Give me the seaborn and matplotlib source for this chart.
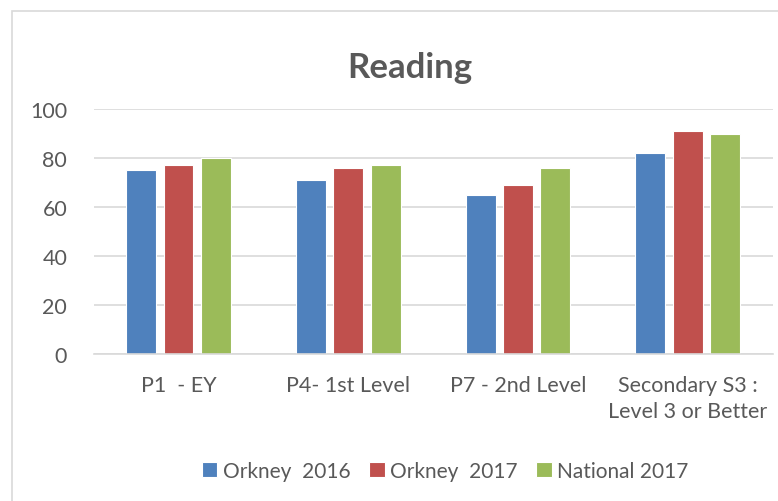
import matplotlib
matplotlib.use("Agg")
import matplotlib.pyplot as plt
import seaborn as sns
import pandas as pd
from matplotlib.patches import Rectangle

categories = ["P1  - EY", "P4- 1st Level", "P7 - 2nd Level", "Secondary S3 :\nLevel 3 or Better"]
series = ["Orkney  2016", "Orkney  2017", "National 2017"]
orkney_2016 = [75, 71, 65, 82]
orkney_2017 = [77, 76, 69, 91]
national_2017 = [80, 77, 76, 90]
colors = ["#4F81BD", "#C0504D", "#9BBB59"]
yticks = [0, 20, 40, 60, 80, 100]

rows = []
for s, vals in zip(series, [orkney_2016, orkney_2017, national_2017]):
    for c, v in zip(categories, vals):
        rows.append({"cat": c, "series": s, "value": v})
df = pd.DataFrame(rows)

sns.set_theme(style="white")
plt.rcParams['font.family'] = ['Lato', 'DejaVu Sans']
plt.rcParams['ytick.major.pad'] = 19
plt.rcParams['xtick.major.pad'] = 15
plt.rcParams['ytick.major.size'] = 0
plt.rcParams['xtick.major.size'] = 0
text_color = "#595959"

fig = plt.figure(figsize=(7.78, 5.02), dpi=100)
ax = fig.add_axes([93.6/778, 1-355/502, 679/778, 245/502])

sns.barplot(data=df, x="cat", y="value", hue="series", palette=colors,
            width=0.66, gap=0.2, ax=ax, edgecolor="white", linewidth=0.8,
            saturation=1, legend=True)

ax.set_ylim(0, 100)
ax.set_xlim(-0.5, 3.5)
ax.set_yticks(yticks)
ax.yaxis.grid(True, color="#D9D9D9", linewidth=1.2)
ax.set_axisbelow(True)
for sp in ["top", "right", "left"]:
    ax.spines[sp].set_visible(False)
ax.spines["bottom"].set_color("#D9D9D9")
ax.spines["bottom"].set_linewidth(1.2)
ax.tick_params(axis="both", length=0, labelsize=15.5, colors=text_color)
ax.tick_params(axis="y", pad=19)
ax.tick_params(axis="x", pad=15)
ax.set_xlabel("")
ax.set_ylabel("")
for lbl in ax.get_xticklabels():
    lbl.set_linespacing(1.4)

fig.text(410/778, 1-68/502, "Reading", ha="center", va="center",
         fontsize=25, fontweight="bold", color=text_color)

leg = ax.legend(loc="center", bbox_to_anchor=(445/778, 1-472/502),
                bbox_transform=fig.transFigure, ncol=3, frameon=False,
                fontsize=15, handlelength=0.75, handleheight=0.75,
                handletextpad=0.25, columnspacing=0.9)
for t in leg.get_texts():
    t.set_color(text_color)

fig.patches.append(Rectangle((12/778, -0.1), 2, 1 - 12/502 + 0.1,
                             transform=fig.transFigure, fill=False,
                             edgecolor="#D9D9D9", linewidth=1.2))

fig.savefig("out.png", dpi=100)
